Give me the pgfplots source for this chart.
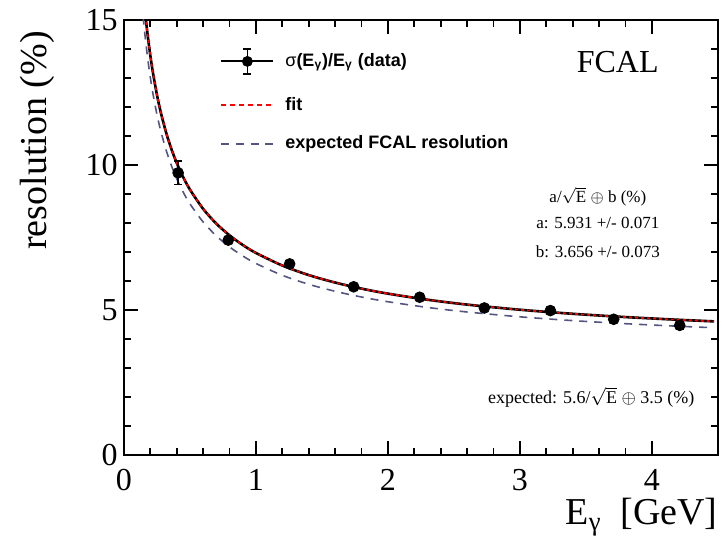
\documentclass[border=0pt]{standalone}
\usepackage{fontspec}
\setmainfont{Liberation Serif}
\newfontfamily\legfont{Liberation Sans}
\usepackage{pgfplots}
\usepackage{pgfplotstable}
\pgfplotsset{compat=1.18}
\definecolor{expcol}{RGB}{85,85,130}

% measured resolution per energy bin
\pgfplotstableread{
E     res   err
0.41  9.73  0.40
0.79  7.41  0.08
1.255 6.59  0.07
1.74  5.80  0.06
2.24  5.44  0.06
2.73  5.07  0.06
3.23  4.98  0.06
3.71  4.68  0.07
4.21  4.47  0.12
}\datatab

% fitted curve: 5.931/sqrt(E) (+) 3.656
\pgfplotstableread{
E     res
0.163 15.139
0.17  14.842
0.18  14.450
0.2   13.757
0.22  13.163
0.25  12.413
0.28  11.790
0.32  11.104
0.36  10.540
0.4   10.065
0.45  9.568
0.5   9.150
0.6   8.485
0.7   7.976
0.8   7.572
0.9   7.242
1.0   6.967
1.2   6.533
1.4   6.204
1.6   5.946
1.8   5.737
2.0   5.564
2.3   5.354
2.6   5.186
3.0   5.009
3.4   4.869
3.8   4.756
4.2   4.663
4.47  4.608
}\fittab

% expected curve: 5.6/sqrt(E) (+) 3.5
\pgfplotstableread{
E     res
0.145 15.117
0.15  14.877
0.16  14.431
0.18  13.655
0.2   13.002
0.22  12.442
0.25  11.734
0.28  11.147
0.32  10.500
0.36  9.968
0.4   9.521
0.45  9.052
0.5   8.659
0.6   8.032
0.7   7.553
0.8   7.173
0.9   6.863
1.0   6.604
1.2   6.195
1.4   5.886
1.6   5.644
1.8   5.447
2.0   5.285
2.3   5.088
2.6   4.931
3.0   4.765
3.4   4.634
3.8   4.528
4.2   4.440
4.47  4.389
}\exptab

\begin{document}
\begin{tikzpicture}
\begin{axis}[
  scale only axis, width=297pt, height=217.5pt,
  xmin=0, xmax=4.5, ymin=0, ymax=15,
  xtick={0,1,2,3,4}, ytick={0,5,10,15},
  minor x tick num=4, minor y tick num=4,
  major tick length=7pt, minor tick length=3.5pt,
  tick align=inside,
  axis line style={line width=1.2pt},
  every tick/.style={black, line width=0.9pt},
  /pgf/number format/assume math mode=true,
  ticklabel style={font=\fontsize{16}{18}\selectfont, inner sep=0pt},
  xticklabel style={yshift=-7pt},
  yticklabel style={xshift=-3pt},
  xlabel={E\textsubscript{γ}\ \ [GeV]},
  ylabel={resolution (\%)},
  label style={font=\fontsize{19}{22}\selectfont, inner sep=0pt},
  xlabel style={at={(axis description cs:1,-0.099)}, anchor=north east},
  ylabel style={at={(axis description cs:-0.116,0.975)}, anchor=south east},
  legend style={at={(axis description cs:0.1616,0.816)}, anchor=west,
    draw=none, fill=none, inner sep=0pt,
    font=\legfont\bfseries\fontsize{9}{11}\selectfont,
    nodes={inner sep=0pt, anchor=west}, column sep=5.5pt, row sep=11.3pt},
  legend cell align=left,
]
\coordinate (O) at (rel axis cs:0,0);

\addlegendimage{legend image code/.code={
  \draw[black, line width=1pt] (0pt,0pt) -- (26pt,0pt);
  \draw[black, line width=0.8pt] (13pt,-6.2pt) -- (13pt,6.2pt)
       (11pt,6.2pt) -- (15pt,6.2pt) (11pt,-6.2pt) -- (15pt,-6.2pt);
  \fill[black] (13pt,0pt) circle (2.5pt);}}
\addlegendentry{\mdseries σ\bfseries(E\textsubscript{γ})/E\textsubscript{γ} (data)}
\addlegendimage{legend image code/.code={
  \draw[red, line width=1pt, dash pattern=on 2.3pt off 2.2pt] (0pt,0pt) -- (26pt,0pt);}}
\addlegendentry{fit}
\addlegendimage{legend image code/.code={
  \draw[expcol, line width=0.8pt, dash pattern=on 4pt off 3.3pt] (0pt,0pt) -- (26pt,0pt);}}
\addlegendentry{expected FCAL resolution}

\addplot[forget plot, expcol, line width=0.8pt, dash pattern=on 4pt off 3.5pt, smooth]
  table[x=E, y=res] {\exptab};
\addplot[forget plot, black, line width=1.3pt, smooth] table[x=E, y=res] {\fittab};
\addplot[forget plot, red, line width=0.9pt, dash pattern=on 1.5pt off 1.5pt, smooth]
  table[x=E, y=res] {\fittab};
\addplot[forget plot, black, only marks, mark=*, mark size=2.7pt,
  mark options={fill=black},
  error bars/.cd, y dir=both, y explicit,
  error bar style={line width=0.8pt},
  error mark=-,
  error mark options={rotate=90, line width=0.8pt, mark size=2pt}]
  table[x=E, y=res, y error=err] {\datatab};

\node[font=\fontsize{16}{18}\selectfont] at (axis cs:3.74,13.55) {FCAL};
\node[font=\fontsize{8.5}{10}\selectfont] at (axis cs:3.59,8.9)
  {a/$\sqrt{\hbox{E}}$ $\oplus$ b (\%)};
\node[font=\fontsize{8.5}{10}\selectfont] at (axis cs:3.59,8.0) {a: 5.931 +/- 0.071};
\node[font=\fontsize{8.5}{10}\selectfont] at (axis cs:3.59,7.0) {b: 3.656 +/- 0.073};
\node[font=\fontsize{9}{11}\selectfont] at (axis cs:3.54,2.0)
  {expected: 5.6/$\sqrt{\hbox{E}}$ $\oplus$ 3.5 (\%)};
\end{axis}
\path ([shift={(-62pt,-40.5pt)}]O) rectangle ++(361pt,268pt);
\end{tikzpicture}
\end{document}
